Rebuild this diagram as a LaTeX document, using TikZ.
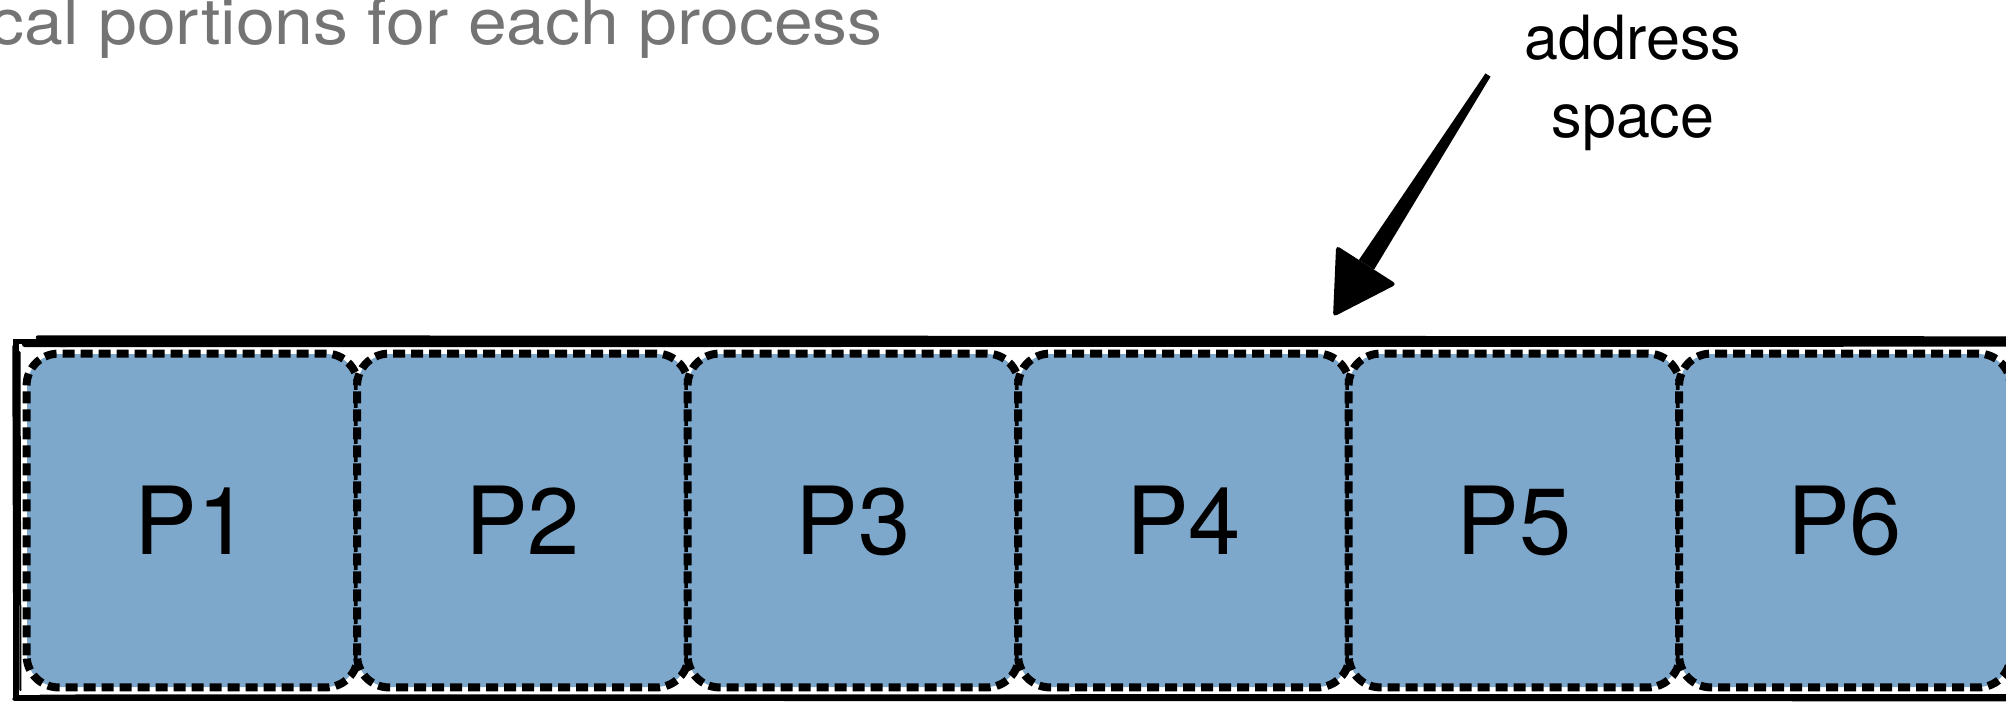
\documentclass[tikz,border=0pt]{standalone}
\usepackage{fontspec}
\usepackage{graphicx}
\setmainfont{TeX Gyre Heros}
\usetikzlibrary{calc}
\definecolor{procfill}{HTML}{7EA8CB}
\definecolor{titlegray}{HTML}{747474}
\begin{document}
\begin{tikzpicture}[x=0.5pt,y=-0.5pt,
  procbox/.style={rectangle, rounded corners=16pt, fill=procfill,
    minimum width=165.25pt, minimum height=166.5pt, inner sep=0pt,
    font=\fontsize{47}{56}\selectfont},
  procedge/.style={draw=black, line width=4pt, dash pattern=on 6pt off 3pt,
    rounded corners=16pt},
  sketch/.style={line width=#1, line cap=round},
  sketch/.default=0.8pt,
  headline/.style={anchor=base east, inner sep=0pt, text=titlegray,
    font=\fontsize{32}{38}\selectfont},
  callout/.style={inner sep=0pt, align=center,
    font=\fontsize{30.5}{39}\selectfont}]
\useasboundingbox (0,0) rectangle (2006,701);
\clip (0,0) rectangle (2006,701);

% heading, running off the left edge
\node[headline] (title) at (883,45) {\scalebox{1.09}[1]{cal portions for each process}};

% the whole address space: a hand-drawn frame
\coordinate (asNW) at (16,341.5);
\coordinate (asSE) at (2030,697.5);
\draw[sketch=2.6pt] (asNW) rectangle (asSE);
\draw[sketch=2.2pt] (38,337.5) -- (2030,338.5);
\draw[sketch=3.2pt] (25,344) -- (2030,343.5);
\draw[sketch=1.4pt] (120,339.5) -- (1400,341);
\draw[sketch=1.4pt] (600,342) -- (2030,340);
\draw[sketch=1.0pt] (60,346) -- (900,345.5);
\draw[sketch=1.2pt] (13.5,346) -- (14.5,699);
\draw[sketch=1.0pt] (19.5,352) -- (20.5,690);
\draw[sketch=1.0pt] (40,695.5) -- (2030,695);
\draw[sketch=1.8pt] (14,699) -- (2030,699.5);

% one contiguous portion per process, with a dashed outline
\foreach \i in {1,...,6} {
  \node[procbox] (p\i) at ({192.25+(\i-1)*330.5},520.5) {P\i};
  \draw[procedge] (p\i.south west) rectangle (p\i.north east);
}

% label and brush-stroke arrow
\node[callout] (label) at (1633,82.5) {address\\space};
\coordinate (tail) at (1488,75);
\coordinate (tip) at (1333,317);
\coordinate (hb) at ($(tip)!31pt!(tail)$);
\fill ($(tail)!1.5pt!90:(tip)$) -- ($(tail)!1.5pt!-90:(tip)$)
   -- ($(hb)!4.5pt!90:(tail)$) -- ($(hb)!4.5pt!-90:(tail)$) -- cycle;
\fill[rounded corners=2pt] (tip) -- ($(hb)!18pt!90:(tip)$)
   -- ($(hb)!18pt!-90:(tip)$) -- cycle;
\end{tikzpicture}
\end{document}
